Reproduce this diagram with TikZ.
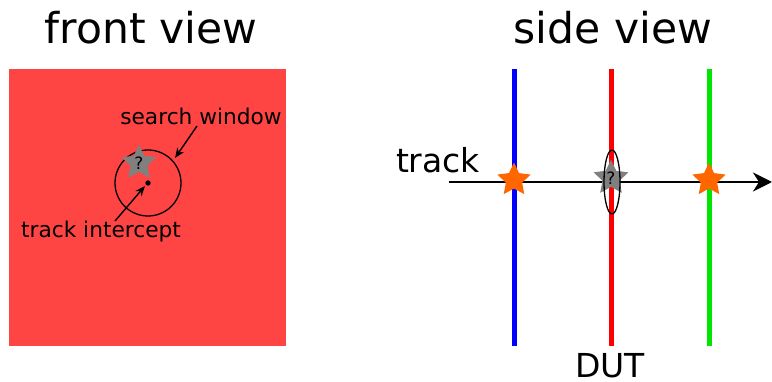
\documentclass[tikz,border=0pt]{standalone}
\usepackage{fontspec}
\setmainfont{DejaVu Sans}
\usetikzlibrary{shapes.geometric,arrows.meta}
\definecolor{plate}{RGB}{255,68,68}
\definecolor{hitorange}{RGB}{255,102,0}
\definecolor{hitgray}{RGB}{128,128,128}
\definecolor{dutred}{RGB}{255,0,0}
\definecolor{refgreen}{RGB}{0,230,0}
\begin{document}
\begin{tikzpicture}[x=1pt,y=-1pt,
  title/.style={font=\fontsize{42.5}{44}\selectfont, inner sep=0pt},
  label/.style={font=\fontsize{21.7}{23}\selectfont, inner sep=0pt},
  biglabel/.style={font=\fontsize{33}{35}\selectfont, inner sep=0pt},
  hit/.style={star, star points=5, star point ratio=2.05, minimum size=35pt, inner sep=0pt, fill=hitorange},
  unknown/.style={star, star points=5, star point ratio=2.05, minimum size=32pt, inner sep=0pt, fill=hitgray, font=\fontsize{17}{17}\selectfont},
  plane/.style={line width=5pt},
  pointer/.style={-{Stealth[length=10pt,width=8pt]}, line width=1.4pt}]
\useasboundingbox (0,0) rectangle (772,382);

% front view
\node[title] (ftitle) at (151,28) {front view};
\fill[plate] (9,69) rectangle (286,346);
\node[draw, circle, line width=1.3pt, minimum size=66pt, inner sep=0pt] (window) at (148,183) {};
\node[unknown] (fstar) at (139,163) {?};
\fill (148,183) circle (2.7pt) coordinate (icpt);
\node[label] (swlabel) at (201,116) {search window};
\node[label] (tilabel) at (101,232) {track intercept};
\coordinate (swtail) at (197,126);
\coordinate (swhead) at (175,158);
\draw[pointer] (swtail) -- (swhead);
\coordinate (titail) at (115,221);
\coordinate (tihead) at (145,186);
\draw[pointer] (titail) -- (tihead);

% side view
\node[title] (stitle) at (613,28) {side view};
\coordinate (bt) at (514,69);  \coordinate (bb) at (514,346);
\coordinate (rt) at (611,69);  \coordinate (rb) at (611,346);
\coordinate (gt) at (709,69);  \coordinate (gb) at (709,346);
\draw[plane, blue] (bt) -- (bb);
\draw[plane, dutred] (rt) -- (rb);
\draw[plane, refgreen] (gt) -- (gb);
\coordinate (tstart) at (449,182);
\coordinate (tend) at (772,182);
\draw[line width=2.4pt, -{Stealth[length=19pt,width=19pt,inset=6pt]}] (tstart) -- (tend);
\node[biglabel] (tracklabel) at (438,160) {track};
\node[hit] (h1) at (514,180) {};
\node[hit] (h3) at (709,180) {};
\node[unknown] (h2) at (611,178) {?};
\node[draw, ellipse, line width=1.3pt, minimum width=16pt, minimum height=64pt, inner sep=0pt] (dutwin) at (612,182) {};
\node[biglabel] (dutlabel) at (610,366) {DUT};
\end{tikzpicture}
\end{document}
